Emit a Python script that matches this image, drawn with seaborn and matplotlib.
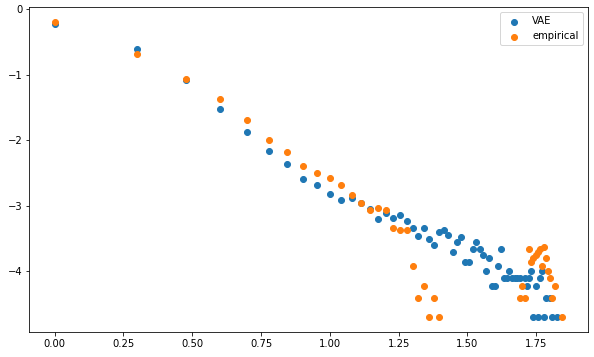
import numpy as np
import pandas as pd
import matplotlib
matplotlib.use("Agg")
import matplotlib.pyplot as plt
import seaborn as sns

nan = np.nan

# x positions (log10 of rank 1..70)
x_vals = [0.000, 0.301, 0.477, 0.602, 0.699, 0.778, 0.845, 0.903, 0.954, 1.000,
          1.041, 1.079, 1.114, 1.146, 1.176, 1.204, 1.230, 1.255, 1.279, 1.301,
          1.322, 1.342, 1.362, 1.380, 1.398, 1.415, 1.431, 1.447, 1.462, 1.477,
          1.491, 1.505, 1.519, 1.531, 1.544, 1.556, 1.568, 1.580, 1.591, 1.602,
          1.613, 1.623, 1.633, 1.643, 1.653, 1.663, 1.672, 1.681, 1.690, 1.699,
          1.708, 1.716, 1.724, 1.732, 1.740, 1.748, 1.756, 1.763, 1.771, 1.778,
          1.785, 1.792, 1.799, 1.806, 1.813, 1.820, 1.826, 1.833, 1.839, 1.845]

vae_vals = [-0.217, -0.609, -1.079, -1.529, -1.870, -2.164, -2.366, -2.583, -2.676, -2.816,
            -2.909, -2.884, -2.950, -3.048, -3.203, -3.110, -3.188, -3.141, -3.234, -3.343,
            -3.467, -3.343, -3.498, -3.591, -3.405, -3.374, -3.451, -3.699, -3.553, -3.469,
            -3.854, -3.854, -3.658, -3.553, -3.658, -3.745, -4.000, -3.796, -4.222, -4.222,
            -3.921, -3.658, -4.097, -4.097, -4.000, -4.097, -4.097, -4.097, -4.097, nan,
            -4.097, -4.222, -4.097, -4.000, -4.699, -4.222, -4.699, -4.097, -4.000, -4.699,
            -4.398, nan, -4.398, -4.699, nan, nan, -4.699, nan, nan, nan]

emp_vals = [-0.195, -0.676, -1.059, -1.369, -1.695, -1.989, -2.180, -2.397, -2.505, -2.578,
            -2.676, -2.831, -2.955, -3.064, -3.033, -3.064, -3.343, -3.374, -3.374, -3.921,
            -4.398, -4.222, -4.699, -4.398, -4.699, nan, nan, nan, nan, nan,
            nan, nan, nan, nan, nan, nan, nan, nan, nan, nan,
            nan, nan, nan, nan, nan, nan, nan, nan, -4.398, -4.222,
            -4.398, nan, -3.658, -3.854, -3.796, -3.745, -3.699, -3.658, -3.921, -3.620,
            -3.796, -4.000, -4.097, -4.398, nan, -4.222, nan, nan, nan, -4.699]

series_names = ["VAE", "empirical"]
series_colors = ["#1f77b4", "#ff7f0e"]

W, H, DPI = 594, 357, 72
fig = plt.figure(figsize=(W / DPI, H / DPI), dpi=DPI)
ax = fig.add_axes([29.3 / W, 1 - 332 / H, (587.7 - 29.3) / W, (332 - 7.3) / H])

df = pd.DataFrame({"x": x_vals, "VAE": vae_vals, "empirical": emp_vals})
for name, col in zip(series_names, series_colors):
    sub = df[["x", name]].dropna()
    sns.scatterplot(x=sub["x"], y=sub[name], ax=ax, color=col, s=36,
                    edgecolor=col, linewidth=1.0, label=name)

ax.set_xlabel("")
ax.set_ylabel("")
ax.legend(loc="upper right")
fig.savefig("out.png", dpi=DPI)
